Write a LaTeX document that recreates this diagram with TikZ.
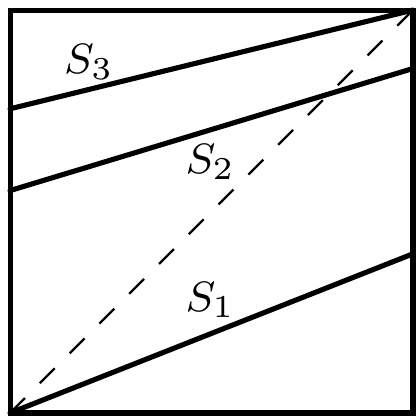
\documentclass[tikz,border=0pt]{standalone}
\usepackage{amsmath,amssymb}
\usepackage{xcolor}
\usepackage{tikz}
\usetikzlibrary{calc}
\tikzset{
  sqbox/.style={line width=2.8pt,black},
  cut/.style={line width=2.8pt,black,line cap=round},
  diag/.style={line width=1.2pt,black,dash pattern=on 11.5pt off 11.5pt},
  lab/.style={font=\footnotesize,inner sep=0pt,scale=2.9,transform shape}
}
\begin{document}
\begin{tikzpicture}[x=0.773cm,y=0.773cm]
\useasboundingbox (-0.25,-0.1) rectangle (10.1,10.25);
\coordinate (O) at (0,0); \coordinate (C) at (10,10);
\coordinate (R1) at (10,3.95);
\coordinate (L2) at (0,5.52); \coordinate (R2) at (10,8.55);
\coordinate (L3) at (0,7.55);
\draw[diag] (O)--(C);
\draw[cut] (O)--(R1);
\draw[cut] (L2)--(R2);
\draw[cut] (L3)--(C);
\draw[sqbox] (O) rectangle (C);
\node[lab] (s1) at (4.97,2.81) {$S_1$};
\node[lab] (s2) at (4.97,6.24) {$S_2$};
\node[lab] (s3) at (1.96,8.72) {$S_3$};
\end{tikzpicture}
\end{document}
